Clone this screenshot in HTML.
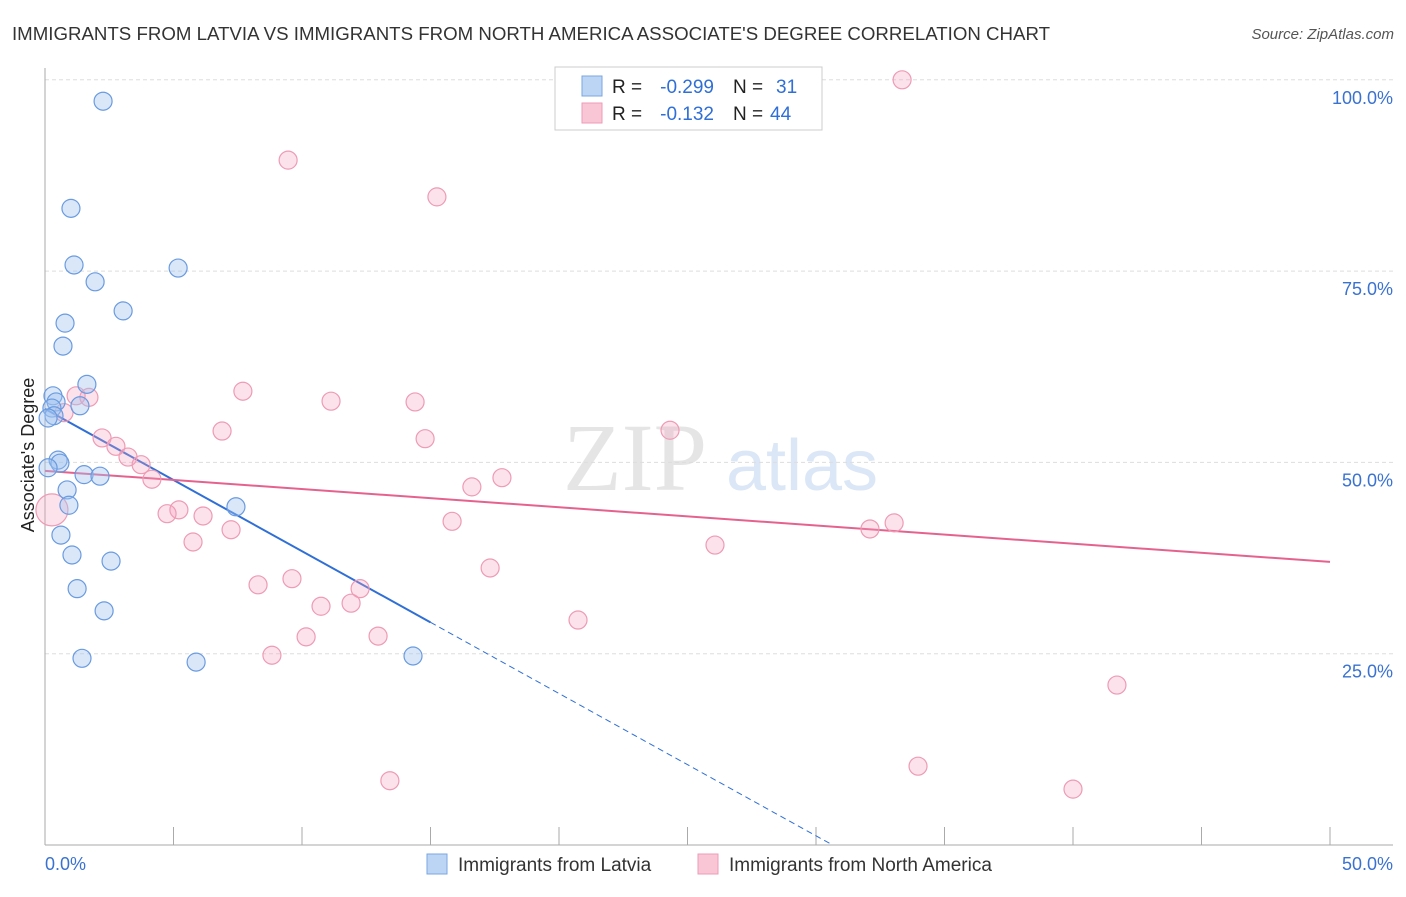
<!DOCTYPE html>
<html><head><meta charset="utf-8"><style>
body{margin:0;background:#fff;font-family:"Liberation Sans",sans-serif}
</style></head><body>
<svg width="1406" height="892" xmlns="http://www.w3.org/2000/svg" font-family="Liberation Sans, sans-serif">
<text x="12" y="40" font-size="18" fill="#333" textLength="1038" lengthAdjust="spacingAndGlyphs">IMMIGRANTS FROM LATVIA VS IMMIGRANTS FROM NORTH AMERICA ASSOCIATE'S DEGREE CORRELATION CHART</text>
<text x="1394" y="39" font-size="15" fill="#555" font-style="italic" text-anchor="end">Source: ZipAtlas.com</text>
<g opacity="0.5">
<text x="635" y="490" font-size="96" fill="#ccc" font-family="Liberation Serif, serif" text-anchor="middle">ZIP</text>
<text x="802" y="490" font-size="72" fill="#b8d0ee" text-anchor="middle">atlas</text>
</g>
<g id="grid"></g><g id="axes"></g><g id="lines"></g><g id="pts"></g>
<text transform="translate(34,455) rotate(-90)" font-size="18" fill="#222" text-anchor="middle">Associate's Degree</text>
<g font-size="19">
<rect x="555" y="67" width="267" height="63" fill="#fff" stroke="#ccc"/>
<rect x="582" y="76" width="20" height="20" fill="#bcd5f5" stroke="#7aa6e0"/>
<rect x="582" y="103" width="20" height="20" fill="#f9c6d6" stroke="#ee9bb5"/>
<text x="612" y="93" fill="#222">R =</text>
<text x="714" y="93" fill="#2f6fd6" text-anchor="end">-0.299</text>
<text x="733" y="93" fill="#222">N =</text>
<text x="776" y="93" fill="#2f6fd6">31</text>
<text x="612" y="120" fill="#222">R =</text>
<text x="714" y="120" fill="#2f6fd6" text-anchor="end">-0.132</text>
<text x="733" y="120" fill="#222">N =</text>
<text x="770" y="120" fill="#2f6fd6">44</text>
</g>
<g>
<rect x="427" y="854" width="20" height="20" fill="#bcd5f5" stroke="#7aa6e0"/>
<text x="458" y="871" font-size="19" fill="#333">Immigrants from Latvia</text>
<rect x="698" y="854" width="20" height="20" fill="#f9c6d6" stroke="#ee9bb5"/>
<text x="729" y="871" font-size="19" fill="#333">Immigrants from North America</text>
</g>
</svg>
<script>
const blueX=[2.26,1.01,1.13,1.95,5.18,3.04,0.78,0.70,1.63,0.31,0.43,0.27,1.36,0.35,0.12,0.51,0.58,0.12,1.52,2.14,0.86,0.93,7.43,0.62,1.05,2.57,1.25,2.30,1.44,5.88,14.32];
const blueY=[97.2,83.2,75.8,73.6,75.4,69.8,68.2,65.2,60.2,58.7,57.9,57.1,57.4,56.1,55.8,50.3,49.9,49.3,48.4,48.2,46.4,44.4,44.2,40.5,37.9,37.1,33.5,30.6,24.4,23.9,24.7];
const pinkX=[33.35,9.46,15.25,7.70,11.13,14.40,1.71,1.21,0.74,6.89,14.79,24.32,2.22,2.76,3.23,3.74,4.16,17.78,16.61,5.21,4.75,6.15,15.84,7.24,5.76,33.04,32.10,26.07,17.32,8.29,9.61,12.26,10.74,11.91,20.74,10.16,12.96,8.83,41.71,33.97,13.42,40.00,0.27];
const pinkY=[100,89.5,84.7,59.3,58.0,57.9,58.5,58.7,56.5,54.1,53.1,54.2,53.2,52.1,50.7,49.7,47.8,48.0,46.8,43.8,43.3,43.0,42.3,41.2,39.6,42.1,41.3,39.2,36.2,34.0,34.8,33.5,31.2,31.6,29.4,27.2,27.3,24.8,20.9,10.3,8.4,7.3,43.8];
const yTicks=[25,50,75,100];
const yTickLabels=["25.0%","50.0%","75.0%","100.0%"];
const xTicks=[0,5,10,15,20,25,30,35,40,45,50];
const blueTrend=[57.0,-1.86];
const pinkTrend=[48.9,-0.238];
const NS="http://www.w3.org/2000/svg";
const X=v=>45+v*25.7, Y=v=>845-v*7.652;
function mk(t,a,p){const e=document.createElementNS(NS,t);for(const k in a)e.setAttribute(k,a[k]);document.getElementById(p).appendChild(e);return e;}
yTicks.forEach((t,i)=>{
 const g=mk('line',{x1:45,x2:1393,y1:Y(t),y2:Y(t),stroke:'#ddd','stroke-dasharray':'4,3'},'grid');
 
 
 const l=mk('text',{x:1393,y:Y(t)+24,'font-size':18,fill:'#3a72d0','text-anchor':'end'},'axes');
 l.textContent=yTickLabels[i];
 
 
});
const ya=mk('line',{x1:45,x2:45,y1:68,y2:845,stroke:'#aaa'},'axes');


const xa=mk('line',{x1:45,x2:1393,y1:845,y2:845,stroke:'#aaa'},'axes');


xTicks.forEach(t=>{const k=mk('line',{x1:X(t),x2:X(t),y1:827,y2:845,stroke:'#aaa'},'axes');
 
 });
const x0=mk('text',{x:45,y:870,'font-size':18,fill:'#3a72d0'},'axes');x0.textContent='0.0%';


const x1=mk('text',{x:1393,y:870,'font-size':18,fill:'#3a72d0','text-anchor':'end'},'axes');x1.textContent='50.0%';


const bz=-blueTrend[0]/blueTrend[1];
const b1=mk('line',{x1:X(0),y1:Y(blueTrend[0]),x2:X(15),y2:Y(blueTrend[0]+blueTrend[1]*15),stroke:'#2f6fd6','stroke-width':2},'lines');


const b2=mk('line',{x1:X(15),y1:Y(blueTrend[0]+blueTrend[1]*15),x2:X(bz),y2:Y(0),stroke:'#2f6fd6','stroke-width':1,'stroke-dasharray':'6,4'},'lines');


const p1=mk('line',{x1:X(0),y1:Y(pinkTrend[0]),x2:X(50),y2:Y(pinkTrend[0]+pinkTrend[1]*50),stroke:'#e5628e','stroke-width':2},'lines');


pinkX.forEach((x,i)=>{const c=mk('circle',{cx:X(x),cy:Y(pinkY[i]),r:i==pinkX.length-1?16:9,fill:'rgba(244,160,188,0.3)',stroke:'#ee9bb5','stroke-width':1.2},'pts');
 
 });
blueX.forEach((x,i)=>{const c=mk('circle',{cx:X(x),cy:Y(blueY[i]),r:9,fill:'rgba(160,196,240,0.4)',stroke:'#6a9be0','stroke-width':1.2},'pts');
 
 });
</script>
</body></html>
